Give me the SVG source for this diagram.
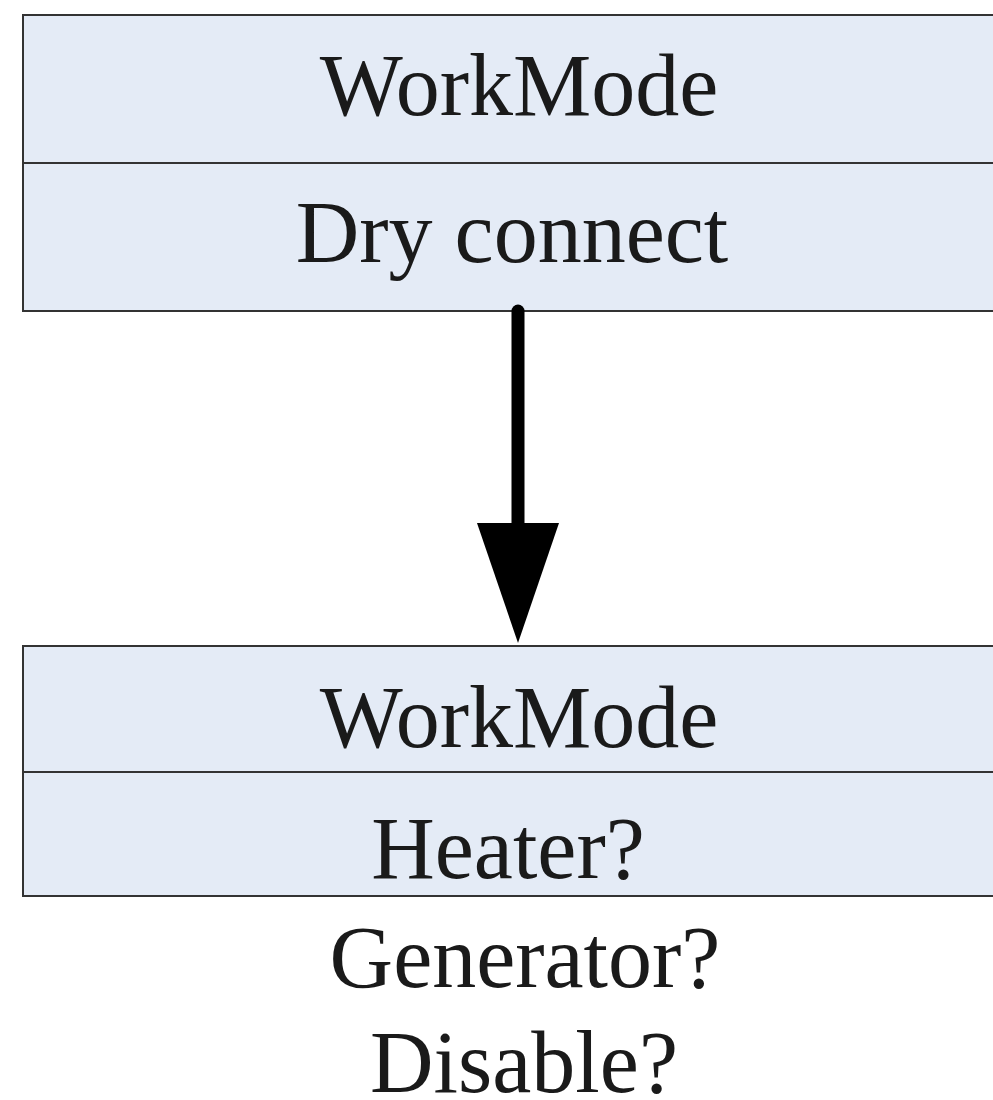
<svg xmlns="http://www.w3.org/2000/svg" width="993" height="1100" viewBox="0 0 993 1100">
<style>
.box{fill:#e4ebf6;stroke:#333;stroke-width:2}
.div{stroke:#333;stroke-width:2}
.t{font-family:"Liberation Serif","Times New Roman",serif;font-size:88px;fill:#1a1a1a;text-anchor:middle}
.conn{stroke:#000;stroke-width:13;stroke-linecap:round;fill:none}
</style>
<rect width="993" height="1100" fill="#fff"/>
<g id="node-top">
<rect class="box" x="23" y="15" width="990" height="296"/>
<line class="div" x1="23" y1="163" x2="1000" y2="163"/>
<text class="t" x="519" y="115">WorkMode</text>
<text class="t" x="512" y="262">Dry connect</text>
</g>
<g id="node-bottom">
<rect class="box" x="23" y="646" width="990" height="250"/>
<line class="div" x1="23" y1="772" x2="1000" y2="772"/>
<text class="t" x="519" y="747">WorkMode</text>
<text class="t" x="508" y="878">Heater?</text>
</g>
<g id="node-notes">
<text class="t" x="525" y="987">Generator?</text>
<text class="t" x="524" y="1092">Disable?</text>
</g>
<g id="connectors">
<line class="conn" x1="518" y1="311" x2="518" y2="530"/>
<polygon points="477,523 559,523 518,643" fill="#000"/>
</g>
</svg>
